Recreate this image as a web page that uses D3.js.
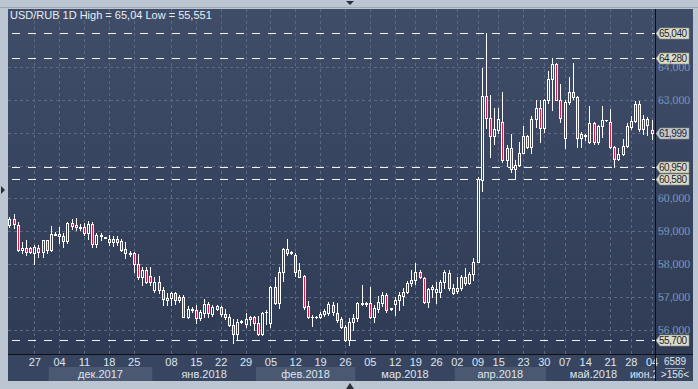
<!DOCTYPE html>
<html>
<head>
<meta charset="utf-8">
<script src="https://cdn.jsdelivr.net/npm/d3@7"></script>
<style>
html, body { margin: 0; padding: 0; background: #bcc6d3; }
svg { display: block; font-family: "Liberation Sans", Arial, sans-serif; }
</style>
</head>
<body>
<svg id="chart" width="698" height="389"></svg>
<script>
// USD/RUB daily candles, index 0 = 21.11.2017 ... 155 = 04.06.2018
var opens = [59.19,59.36,59.19,58.43,58.48,58.48,58.35,58.48,58.38,58.73,58.43,58.90,58.91,58.86,58.71,59.24,59.19,59.12,59.12,58.94,
  59.22,58.60,58.86,58.82,58.78,58.68,58.78,58.71,58.45,58.34,58.33,58.00,57.60,57.82,57.64,57.21,57.47,57.23,56.91,56.96,
  57.11,57.01,57.01,56.41,56.63,56.61,56.36,56.53,56.79,56.49,56.64,56.69,56.49,56.39,56.15,55.88,56.25,56.18,56.32,56.39,
  56.20,55.88,56.55,56.20,57.30,56.83,57.77,58.45,58.36,58.28,57.82,57.64,56.73,56.41,56.40,56.41,56.49,56.51,56.76,56.51,
  56.33,56.10,55.70,56.25,56.35,56.80,56.81,56.81,56.38,56.64,56.81,57.06,56.64,56.78,56.91,57.04,57.17,57.42,57.52,57.75,
  57.59,56.86,57.25,57.17,57.17,57.45,57.72,57.27,57.19,57.29,57.60,57.42,57.69,58.08,60.56,63.11,62.45,61.89,62.07,62.32,
  61.16,61.52,60.88,61.01,61.39,61.89,61.55,62.42,62.76,62.15,62.98,63.63,64.09,63.00,61.85,62.93,63.23,63.08,61.85,61.92,
  61.72,62.29,61.72,62.19,62.37,62.32,61.57,61.21,61.35,61.59,62.17,62.35,62.88,62.12,62.42,62.09];
var highs = [59.42,59.54,59.29,58.68,58.73,58.53,58.58,58.58,58.75,58.75,59.16,58.99,59.12,58.96,59.29,59.38,59.39,59.21,59.24,59.32,
  59.29,58.96,58.96,58.84,58.89,58.86,58.86,58.78,58.68,58.41,58.38,58.30,57.92,57.90,57.90,57.60,57.64,57.30,57.13,57.17,
  57.17,57.06,57.06,56.73,56.69,56.76,56.61,56.93,56.86,56.76,56.76,56.73,56.63,56.49,56.32,56.32,56.30,56.53,56.43,56.43,
  56.43,56.56,56.61,57.34,57.62,57.93,58.48,58.76,58.41,58.33,58.03,57.67,56.89,56.46,56.42,56.56,56.63,56.86,56.86,56.81,
  56.41,56.15,56.35,56.48,56.84,57.37,56.86,57.32,56.76,57.04,57.17,57.13,56.68,57.01,57.17,57.27,57.49,57.82,58.03,57.82,
  57.62,57.27,57.37,57.47,57.52,57.82,57.82,57.39,57.62,57.67,57.89,57.75,58.18,60.66,63.95,65.04,63.13,62.76,62.76,63.23,
  61.62,61.97,61.16,61.72,62.19,61.92,62.52,62.98,63.00,63.03,63.88,64.28,64.11,63.48,62.98,63.68,64.11,63.10,62.02,61.97,
  62.80,62.32,62.22,62.80,62.39,62.72,61.59,61.52,61.82,62.29,62.52,62.96,62.96,62.55,62.47,62.37];
var lows = [59.14,59.09,58.40,58.33,58.28,58.33,58.02,58.23,58.23,58.33,58.40,58.89,58.63,58.51,58.63,59.06,59.04,59.04,58.89,58.78,
  58.53,58.53,58.73,58.80,58.58,58.55,58.58,58.40,58.18,58.25,57.77,57.54,57.37,57.42,57.37,57.16,57.13,56.76,56.76,56.76,
  56.79,56.86,56.39,56.36,56.56,56.20,56.30,56.39,56.39,56.43,56.61,56.43,56.32,56.12,55.60,55.70,56.20,56.08,56.15,56.00,
  55.85,55.85,56.18,56.08,56.79,56.66,57.50,58.28,58.31,57.64,57.60,56.63,56.36,56.12,56.37,56.37,56.43,56.46,56.46,56.23,
  56.05,55.67,55.551,56.00,56.27,56.76,56.74,56.35,56.23,56.54,56.74,56.56,56.61,56.46,56.61,56.76,57.11,57.35,57.39,57.57,
  56.83,56.71,57.01,56.81,57.01,57.27,57.22,57.08,57.12,57.22,57.37,57.39,57.52,58.06,60.21,62.13,61.27,61.65,61.99,61.11,
  60.98,60.81,60.58,60.98,61.37,61.52,61.37,62.17,61.72,62.02,62.90,62.68,62.98,62.32,61.52,62.88,63.03,61.57,61.55,61.79,
  61.67,61.65,61.65,61.87,62.35,61.52,60.94,61.18,61.31,61.55,62.12,62.32,62.05,61.97,61.92,61.82];
var closes = [59.36,59.21,58.43,58.48,58.38,58.38,58.51,58.38,58.73,58.43,58.91,58.91,58.86,58.71,59.24,59.17,59.12,59.11,58.96,59.22,
  58.60,58.89,58.89,58.81,58.68,58.78,58.68,58.43,58.33,58.31,58.00,57.60,57.82,57.47,57.47,57.47,57.21,56.93,56.98,57.11,
  56.91,56.91,56.41,56.63,56.62,56.36,56.56,56.79,56.51,56.69,56.73,56.49,56.39,56.15,55.88,56.25,56.27,56.32,56.39,56.20,
  55.88,56.53,56.56,57.30,56.83,57.77,58.45,58.35,58.35,57.77,57.62,56.69,56.39,56.40,56.39,56.49,56.59,56.78,56.54,56.30,
  56.10,55.70,56.25,56.35,56.81,56.81,56.78,56.38,56.66,56.86,57.06,56.61,56.66,56.91,57.06,57.17,57.42,57.52,57.75,57.61,
  56.86,57.25,57.30,57.24,57.45,57.75,57.27,57.12,57.29,57.60,57.42,57.69,58.08,60.58,63.11,62.45,61.89,62.12,62.42,61.16,
  61.52,60.88,61.01,61.39,61.89,61.55,62.42,62.76,62.15,62.98,63.63,64.09,63.00,62.45,62.93,63.23,63.08,61.85,61.95,61.91,
  62.29,61.72,62.19,62.37,62.37,61.57,61.21,61.35,61.59,62.19,62.35,62.88,62.12,62.42,62.22,61.999];

// week ticks: candle index and label
var dayTickIdx = [6,12,18,24,30,39,45,51,57,63,69,75,81,87,93,98,103,108,113,118,124,129,134,139,145,150,155];
var dayTickLabels = ['27','04','11','18','25','08','15','22','29','05','12','19','26','05','12','19','26','02','09','15','23','30','07','14','21','28','04'];

// months: label, first/last boundary (in candle index)
var monthLabels = ['дек.2017','янв.2018','фев.2018','мар.2018','апр.2018','май.2018','июн.2018'];
var monthStart = [9.5,34.5,59.5,83.5,107.5,129.5,152.5];
var monthEnd = [34.5,59.5,83.5,107.5,129.5,152.5,158];

var priceTicks = [56,57,58,59,60,61,62,63,64];
// 61 and 62 sit under the price tags, so the terminal hides them
var priceLabels = [56,57,58,59,60,63,64];
var levelValues = [65.04,64.28,60.95,60.58,55.70];
var lastPrice = 61.999;

var svg = d3.select('#chart');
var plotL = 8, plotR = 655, plotT = 9, plotB = 354, panelR = 693, panelB = 381;

var x = d3.scaleLinear().domain([0, 155]).range([9.4, 651.5]);
var y = d3.scaleLinear().domain([56, 65.04]).range([330, 32.6]);
var fmt3 = function(v) { return d3.format('.3f')(v).replace('.', ','); };

var defs = svg.append('defs');
var grad = defs.append('linearGradient').attr('id', 'bg')
  .attr('gradientUnits', 'userSpaceOnUse')
  .attr('x1', 0).attr('y1', plotT).attr('x2', 0).attr('y2', panelB);
grad.append('stop').attr('offset', 0).attr('stop-color', '#404d69');
grad.append('stop').attr('offset', 1).attr('stop-color', '#2e3a53');
defs.append('clipPath').attr('id', 'plotClip').append('rect')
  .attr('x', plotL).attr('y', plotT).attr('width', plotR - plotL).attr('height', plotB - plotT);
defs.append('clipPath').attr('id', 'axisClip').append('rect')
  .attr('x', plotL).attr('y', plotB).attr('width', plotR - plotL).attr('height', panelB - plotB);

// outer frame
svg.append('rect').attr('x', 0).attr('y', 0).attr('width', 698).attr('height', 389).attr('fill', '#bcc6d3');
svg.append('line').attr('x1', 0).attr('x2', 698).attr('y1', 7.5).attr('y2', 7.5).attr('stroke', '#9aa6b6');
svg.append('rect').attr('x', plotL).attr('y', plotT).attr('width', panelR - plotL).attr('height', panelB - plotT)
  .attr('fill', 'url(#bg)');

// grid
var grid = svg.append('g').attr('clip-path', 'url(#plotClip)');
grid.selectAll('.hg').data(priceTicks).enter().append('line')
  .attr('x1', plotL).attr('x2', plotR)
  .attr('y1', function(d) { return Math.round(y(d)) + 0.5; })
  .attr('y2', function(d) { return Math.round(y(d)) + 0.5; })
  .attr('stroke', '#5b6985').attr('stroke-dasharray', '3,3');
grid.selectAll('.vg').data(dayTickIdx).enter().append('line')
  .attr('y1', plotT).attr('y2', plotB)
  .attr('x1', function(d) { return Math.round(x(d)) + 0.5; })
  .attr('x2', function(d) { return Math.round(x(d)) + 0.5; })
  .attr('stroke', '#5b6985').attr('stroke-dasharray', '3,3');

// level lines
grid.selectAll('.lvl').data(levelValues).enter().append('line')
  .attr('x1', plotL).attr('x2', plotR)
  .attr('y1', function(d) { return Math.round(y(d)) + 0.5; })
  .attr('y2', function(d) { return Math.round(y(d)) + 0.5; })
  .attr('stroke', '#f2f2f2').attr('stroke-dasharray', '8,8').attr('stroke-dashoffset', -4);

// candles
var candles = grid.append('g').attr('shape-rendering', 'crispEdges');
d3.range(opens.length).forEach(function(i) {
  var cx = Math.round(x(i)) + 0.5;
  var o = opens[i], c = closes[i];
  var top = Math.round(y(Math.max(o, c))) + 0.5, bot = Math.round(y(Math.min(o, c))) + 0.5;
  candles.append('line').attr('x1', cx).attr('x2', cx)
    .attr('y1', Math.round(y(highs[i]))).attr('y2', Math.round(y(lows[i])) + 1)
    .attr('stroke', '#ffffff');
  if (bot - top < 1) {
    candles.append('line').attr('x1', cx - 1.5).attr('x2', cx + 1.5).attr('y1', top).attr('y2', top)
      .attr('stroke', '#ffffff');
  } else {
    candles.append('rect').attr('x', cx - 1).attr('y', top).attr('width', 2).attr('height', bot - top)
      .attr('fill', c < o ? '#e3163f' : 'url(#bg)').attr('stroke', '#ffffff');
  }
});

// title
svg.append('text').attr('x', 10).attr('y', 19).attr('fill', '#e9edf4').attr('font-size', 11)
  .text('USD/RUB 1D High = 65,04 Low = 55,551');

// bottom axis area
svg.append('rect').attr('x', plotL).attr('y', plotB).attr('width', panelR - plotL).attr('height', panelB - plotB)
  .attr('fill', '#384560');
var months = svg.append('g').attr('clip-path', 'url(#axisClip)');
monthLabels.forEach(function(m, k) {
  var x0 = x(monthStart[k]), x1 = x(monthEnd[k]);
  if (k % 2 === 0) {
    months.append('rect').attr('x', x0).attr('y', 367).attr('width', x1 - x0).attr('height', 14)
      .attr('fill', k === 6 ? '#3f4b63' : '#4b5872');
  }
  months.append('text').attr('x', k === 6 ? 630 : (x0 + x1) / 2).attr('y', 378)
    .attr('text-anchor', k === 6 ? 'start' : 'middle')
    .attr('fill', '#dfe5ee').attr('font-size', k === 6 ? 10.5 : 11).text(k === 6 ? 'июн.2' : m);
});

var xAxis = d3.axisBottom(x).tickValues(dayTickIdx)
  .tickFormat(function(d, k) { return dayTickLabels[k]; }).tickSize(0).tickPadding(3);
var gx = svg.append('g').attr('transform', 'translate(0,' + (plotB + 1) + ')').call(xAxis);
gx.select('.domain').remove();
gx.selectAll('text').attr('fill', '#dfe5ee').attr('font-size', 11).attr('font-family', '"Liberation Sans", Arial, sans-serif');

// right axis
var yAxis = d3.axisRight(y).tickValues(priceLabels).tickFormat(fmt3).tickSize(0).tickPadding(3);
var gy = svg.append('g').attr('transform', 'translate(' + plotR + ',0)').call(yAxis);
gy.select('.domain').remove();
gy.selectAll('text').attr('fill', '#a9cdf3').attr('font-size', 10.5).attr('font-family', '"Liberation Sans", Arial, sans-serif')
  .attr('stroke', '#24324f').attr('stroke-width', 0.3);

// level tags
function tag(v, fill) {
  var cy = Math.round(y(v)) + 0.5;
  var g = svg.append('g');
  g.append('path')
    .attr('d', 'M' + (plotR + 1) + ',' + cy + 'L' + (plotR + 5) + ',' + (cy - 5.5) + 'H' + (panelR - 4) + 'V' + (cy + 5.5) + 'H' + (plotR + 5) + 'Z')
    .attr('fill', fill).attr('stroke', '#8f9384').attr('stroke-width', 0.6);
  g.append('text').attr('x', plotR + 4).attr('y', cy + 3.5).attr('fill', '#1e2430').attr('font-size', 10)
    .attr('textLength', 28).text(fmt3(v));
}
levelValues.forEach(function(v) { tag(v, '#dcdcc6'); });
tag(lastPrice, '#c4c8cf');

// separators
svg.append('line').attr('x1', plotL).attr('x2', panelR).attr('y1', plotB + 0.5).attr('y2', plotB + 0.5).attr('stroke', '#0c0f16');
svg.append('line').attr('x1', plotR + 0.5).attr('x2', plotR + 0.5).attr('y1', plotT).attr('y2', panelB).attr('stroke', '#0c0f16');

// bar counter
svg.append('text').attr('x', 675).attr('y', 365).attr('text-anchor', 'middle').attr('fill', '#dfe5ee').attr('font-size', 10).text('6589');
svg.append('line').attr('x1', 665).attr('x2', 685).attr('y1', 368.5).attr('y2', 368.5).attr('stroke', '#9aa6b6');
svg.append('text').attr('x', 675).attr('y', 378).attr('text-anchor', 'middle').attr('fill', '#dfe5ee').attr('font-size', 10).text('>156<');

// scroll markers
svg.append('path').attr('d', 'M346,1 L354,1 L350,5 Z').attr('fill', '#2a2f38');
svg.append('path').attr('d', 'M346,389 L354,389 L350,383 Z').attr('fill', '#2a2f38');
svg.append('path').attr('d', 'M1,186 L1,194 L5,190 Z').attr('fill', '#2a2f38');
</script>
</body>
</html>
